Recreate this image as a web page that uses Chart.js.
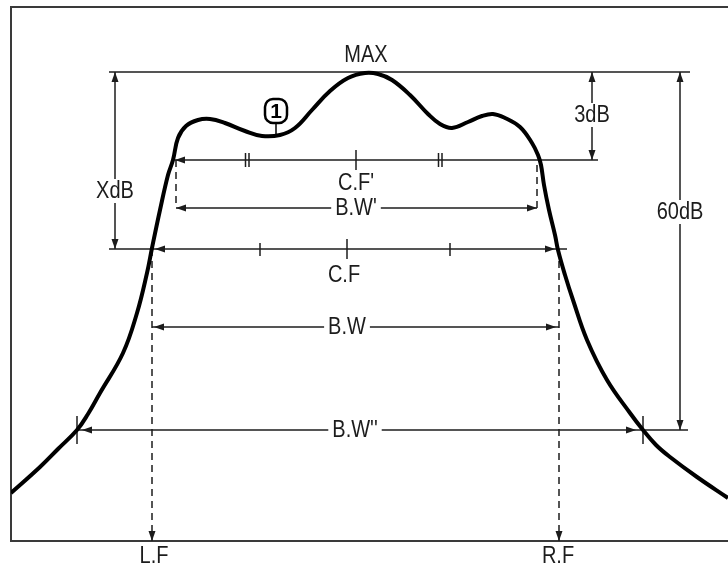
<!DOCTYPE html>
<html>
<head>
<meta charset="utf-8">
<script src="https://cdn.jsdelivr.net/npm/chart.js@4/dist/chart.umd.min.js"></script>
<style>
  html, body { margin: 0; padding: 0; background: #fff; }
  #wrap { width: 728px; height: 569px; position: relative; }
</style>
</head>
<body>
<div id="wrap"><canvas id="c"></canvas></div>
<script>
// ---- Data (frequency units along x, level units along y) ----
const curveX = [0,29,47,66,77,89,112,126,136,141,149,157,162,167,175,187,199,214,234,251,269,284,301,319,337,354,367,381,399,417,429,441,457,471,482,494,509,521,527,530,533,538,544,547,554,562,576,596,619,632,645,659,686,717];
const curveY = [48,74,92,111,127,148,188,228,268,293,331,366,381,403,415,421,422,418,410,405,406,413,431,450,463,468,467,461,446,427,417,413,419,425,427,423,414,398,386,376,356,331,306,291,266,241,201,161,128,111,96,84,64,43];

// reference levels
const LEVEL_MAX = 469;
const LEVEL_3DB = 381;
const LEVEL_BW1 = 333;
const LEVEL_XDB = 292;
const LEVEL_BW = 214;
const LEVEL_60DB = 111;
const LEVEL_RF3 = 376;

// reference frequencies
const FREQ_LF = 141;
const FREQ_RF = 548;
const FREQ_CF = 336;
const FREQ_CF1 = 345;
const FREQ_BW1_L = 165;
const FREQ_BW1_R = 526;
const FREQ_BW2_L = 66;
const FREQ_BW2_R = 632;
const FREQ_XDB = 104;
const FREQ_3DB = 581;
const FREQ_60DB = 669;

// dimension segments: [x1, y1, x2, y2, dashed]
const segments = [
  [98, LEVEL_MAX, 679, LEVEL_MAX, 0],
  [164, LEVEL_3DB, 587, LEVEL_3DB, 0],
  [FREQ_BW1_L, LEVEL_BW1, FREQ_BW1_R, LEVEL_BW1, 0],
  [98, LEVEL_XDB, 556, LEVEL_XDB, 0],
  [FREQ_LF, LEVEL_BW, FREQ_RF, LEVEL_BW, 0],
  [FREQ_BW2_L, LEVEL_60DB, 677, LEVEL_60DB, 0],
  [FREQ_XDB, LEVEL_MAX, FREQ_XDB, LEVEL_XDB, 0],
  [FREQ_3DB, LEVEL_MAX, FREQ_3DB, LEVEL_3DB, 0],
  [FREQ_60DB, LEVEL_MAX, FREQ_60DB, LEVEL_60DB, 0],
  [FREQ_BW1_L, LEVEL_3DB, FREQ_BW1_L, LEVEL_BW1, 1],
  [FREQ_BW1_R, LEVEL_RF3, FREQ_BW1_R, LEVEL_BW1, 1],
  [FREQ_LF, LEVEL_XDB, FREQ_LF, 0, 1],
  [FREQ_RF, LEVEL_XDB, FREQ_RF, 0, 1]
];

// arrow heads: [x, y, direction]
const arrows = [
  [164, LEVEL_3DB, 'l'],
  [FREQ_BW1_L, LEVEL_BW1, 'l'], [FREQ_BW1_R, LEVEL_BW1, 'r'],
  [144, LEVEL_XDB, 'l'], [544, LEVEL_XDB, 'r'],
  [143, LEVEL_BW, 'l'], [545, LEVEL_BW, 'r'],
  [71, LEVEL_60DB, 'l'], [625, LEVEL_60DB, 'r'],
  [FREQ_XDB, LEVEL_MAX, 'u'], [FREQ_XDB, LEVEL_XDB, 'd'],
  [FREQ_3DB, LEVEL_MAX, 'u'], [FREQ_3DB, LEVEL_3DB, 'd'],
  [FREQ_60DB, LEVEL_MAX, 'u'], [FREQ_60DB, LEVEL_60DB, 'd'],
  [FREQ_LF, 0, 'd'], [FREQ_RF, 0, 'd']
];

// tick marks: [x, y, kind]
const ticks = [
  [236, LEVEL_3DB, 'double'], [FREQ_CF1, LEVEL_3DB, 'big'], [429, LEVEL_3DB, 'double'],
  [249, LEVEL_XDB, 'small'], [FREQ_CF, LEVEL_XDB, 'big'], [439, LEVEL_XDB, 'small'],
  [FREQ_BW2_L, LEVEL_60DB, 'cross'], [FREQ_BW2_R, LEVEL_60DB, 'cross']
];

// labels: [text, x, y, whiteBackground]
const labels = [
  ['MAX', 355, 486, 0],
  ['3dB', FREQ_3DB, 426, 1],
  ['XdB', FREQ_XDB, 350, 1],
  ['60dB', FREQ_60DB, 329, 1],
  ["C.F'", FREQ_CF1, 358, 0],
  ["B.W'", FREQ_CF1, LEVEL_BW1, 1],
  ['C.F', 333, 266, 0],
  ['B.W', FREQ_CF, LEVEL_BW, 1],
  ["B.W''", 344, LEVEL_60DB, 1],
  ['L.F', FREQ_LF + 2, -15, 0],
  ['R.F', FREQ_RF - 1, -15, 0]
];

// marker "1": [text, x, y (box centre), curve level below]
const marker = ['1', 265, 430, 405];

// ---- Drawing helpers ----
const INK = '#1c1c1c';
const FONT = '23px "Liberation Sans", Arial, sans-serif';

function drawText(ctx, t, x, y) {
  ctx.save();
  ctx.translate(x, y);
  ctx.scale(0.87, 1);
  ctx.fillText(t, 0, 0);
  ctx.restore();
}

const annotPlugin = {
  id: 'annot',
  beforeDatasetsDraw(chart) {
    const ctx = chart.ctx, xs = chart.scales.x, ys = chart.scales.y;
    const px = v => xs.getPixelForValue(v), py = v => ys.getPixelForValue(v);
    const a = chart.chartArea;
    ctx.save();
    ctx.strokeStyle = '#3a3a3a';
    ctx.lineWidth = 2;
    ctx.beginPath();
    ctx.moveTo(728, a.top); ctx.lineTo(a.left, a.top); ctx.lineTo(a.left, a.bottom); ctx.lineTo(728, a.bottom);
    ctx.stroke();

    ctx.strokeStyle = INK;
    ctx.fillStyle = INK;
    ctx.lineWidth = 1.5;
    segments.forEach(s => {
      ctx.setLineDash(s[4] ? [7, 5] : []);
      ctx.beginPath();
      ctx.moveTo(px(s[0]), py(s[1]));
      ctx.lineTo(px(s[2]), py(s[3]));
      ctx.stroke();
    });
    ctx.setLineDash([]);
    arrows.forEach(ar => {
      const x = px(ar[0]), y = py(ar[1]);
      const L = 10, W = 3.5;
      ctx.beginPath();
      if (ar[2] === 'l') { ctx.moveTo(x, y); ctx.lineTo(x + L, y - W); ctx.lineTo(x + L, y + W); }
      if (ar[2] === 'r') { ctx.moveTo(x, y); ctx.lineTo(x - L, y - W); ctx.lineTo(x - L, y + W); }
      if (ar[2] === 'u') { ctx.moveTo(x, y); ctx.lineTo(x - W, y + L); ctx.lineTo(x + W, y + L); }
      if (ar[2] === 'd') { ctx.moveTo(x, y); ctx.lineTo(x - W, y - L); ctx.lineTo(x + W, y - L); }
      ctx.closePath();
      ctx.fill();
    });
    ticks.forEach(t => {
      const x = px(t[0]), y = py(t[1]);
      ctx.beginPath();
      if (t[2] === 'small') { ctx.moveTo(x, y - 6); ctx.lineTo(x, y + 7); }
      if (t[2] === 'big') { ctx.moveTo(x, y - 10); ctx.lineTo(x, y + 10); }
      if (t[2] === 'double') { ctx.moveTo(x - 1.5, y - 7); ctx.lineTo(x - 1.5, y + 7); ctx.moveTo(x + 2, y - 7); ctx.lineTo(x + 2, y + 7); }
      if (t[2] === 'cross') { ctx.moveTo(x, y - 14); ctx.lineTo(x, y + 14); }
      ctx.stroke();
    });
    ctx.restore();
  },
  afterDatasetsDraw(chart) {
    const ctx = chart.ctx, xs = chart.scales.x, ys = chart.scales.y;
    const px = v => xs.getPixelForValue(v), py = v => ys.getPixelForValue(v);
    ctx.save();
    ctx.font = FONT;
    ctx.textAlign = 'center';
    ctx.textBaseline = 'middle';
    labels.forEach(l => {
      const x = px(l[1]), y = py(l[2]);
      if (l[3]) {
        const w = ctx.measureText(l[0]).width * 0.87 + 8;
        ctx.fillStyle = '#fff';
        ctx.fillRect(x - w / 2, y - 12, w, 24);
      }
      ctx.fillStyle = INK;
      drawText(ctx, l[0], x, y + 1);
    });
    const mx = px(marker[1]), my = py(marker[2]), mc = py(marker[3]);
    ctx.strokeStyle = '#000';
    ctx.lineWidth = 1.5;
    ctx.beginPath();
    ctx.moveTo(mx, my + 12); ctx.lineTo(mx, mc);
    ctx.stroke();
    ctx.fillStyle = '#fff';
    ctx.lineWidth = 2.5;
    ctx.beginPath();
    ctx.roundRect(mx - 11, my - 12, 22, 24, 8);
    ctx.fill();
    ctx.stroke();
    ctx.fillStyle = '#000';
    ctx.font = 'bold 21px "Liberation Sans", Arial, sans-serif';
    ctx.fillText(marker[0], mx, my + 1);
    ctx.restore();
  }
};

new Chart(document.getElementById('c'), {
  type: 'line',
  data: {
    datasets: [{
      data: curveX.map((x, i) => ({ x: x, y: curveY[i] })),
      borderColor: '#000',
      borderWidth: 4,
      pointRadius: 0,
      tension: 0.4,
      fill: false
    }]
  },
  options: {
    responsive: true,
    maintainAspectRatio: false,
    animation: false,
    layout: { padding: { left: 11, top: 7, right: 0, bottom: 28 } },
    scales: {
      x: { type: 'linear', min: 0, max: 717, display: false },
      y: { type: 'linear', min: 0, max: 534, display: false }
    },
    plugins: { legend: { display: false }, tooltip: { enabled: false } }
  },
  plugins: [annotPlugin]
});
</script>
</body>
</html>
